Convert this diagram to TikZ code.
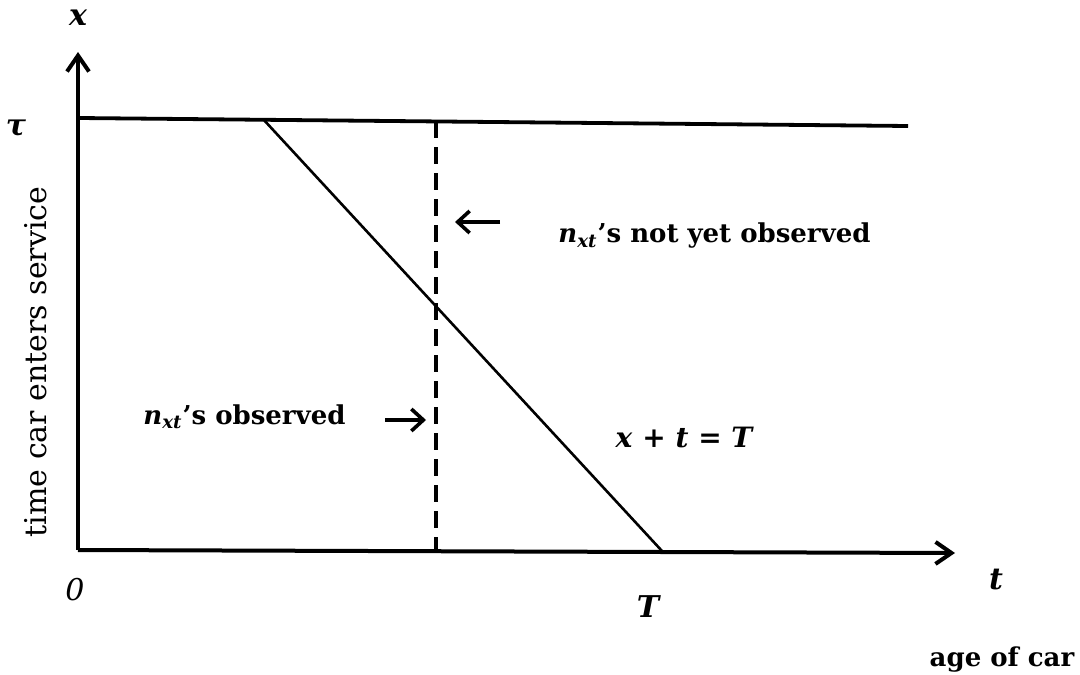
\documentclass[tikz,border=0pt]{standalone}
\usepackage{fontspec}
\setmainfont{DejaVu Serif}
\usepackage{tikz}
\usetikzlibrary{arrows.meta, positioning}
\newcommand{\mvar}[1]{\textbf{\textit{#1}}}
\newcommand{\nxt}{\mvar{n}\textsubscript{\mvar{xt}}}
\tikzset{
	axisarr/.style={-{Straight Barb[length=8pt, width=11pt, line width=2pt]}, line width=2pt},
	markarr/.style={-{Straight Barb[length=6pt, width=11pt, line width=1.8pt]}, line width=1.8pt},
	plainline/.style={line width=1.9pt},
	tagtext/.style={font=\fontsize{13}{15}\selectfont\bfseries, inner sep=0pt},
	vartext/.style={font=\fontsize{15}{17}\selectfont\bfseries\itshape, inner sep=0pt},
}
\begin{document}
\begin{tikzpicture}[x=0.5pt, y=-0.5pt]
	\useasboundingbox (0,0) rectangle (1080,674);

	% axes
	\coordinate (orig) at (78,550);
	\coordinate (ytip) at (78,52);
	\coordinate (xtip) at (955,553);
	\draw[axisarr] (orig) -- (ytip);
	\draw[axisarr] (orig) -- (xtip);

	% line at tau
	\coordinate (tauL) at (79,118);
	\coordinate (tauR) at (908,126);
	\draw[plainline] (tauL) -- (tauR);

	% x + t = T
	\coordinate (diagTop) at (263,119);
	\coordinate (diagBot) at (662,551);
	\draw[line width=1.3pt] (diagTop) -- (diagBot);

	% present time, dashed
	\coordinate (dashTop) at (436,121);
	\coordinate (dashBot) at (436,551);
	\draw[line width=1.8pt, dash pattern=on 8.5pt off 4.5pt] (dashTop) -- (dashBot);

	% axis labels
	\node[vartext] (xlab) at (78,18) {x};
	\node[vartext] (taulab) at (16,128) {τ};
	\node[font=\fontsize{15}{17}\selectfont, inner sep=0pt, rotate=90] (ylab) at (36,362) {time car enters service};
	\node[vartext, font=\fontsize{15}{17}\selectfont\itshape] (zero) at (75,590) {0};
	\node[vartext] (Tlab) at (648,607) {T};
	\node[vartext] (tlab) at (996,580) {t};
	\node[tagtext] (age) at (1002,660) {age of car};

	% regions
	\node[tagtext, anchor=west] (notyet) at (558,236) {\nxt's not yet observed};
	\node[tagtext, anchor=west] (seen) at (143,417) {\nxt's observed};
	\node[vartext, font=\fontsize{14}{16}\selectfont\bfseries\itshape] (eqlab) at (684,437) {x \textup{+} t \textup{=} T};
	\coordinate (notyetEnd) at (455,222);
	\coordinate (seenEnd) at (426,420);
	\draw[markarr] (notyetEnd -| 500,0) -- (notyetEnd);
	\draw[markarr] (seenEnd -| 385,0) -- (seenEnd);
\end{tikzpicture}
\end{document}
